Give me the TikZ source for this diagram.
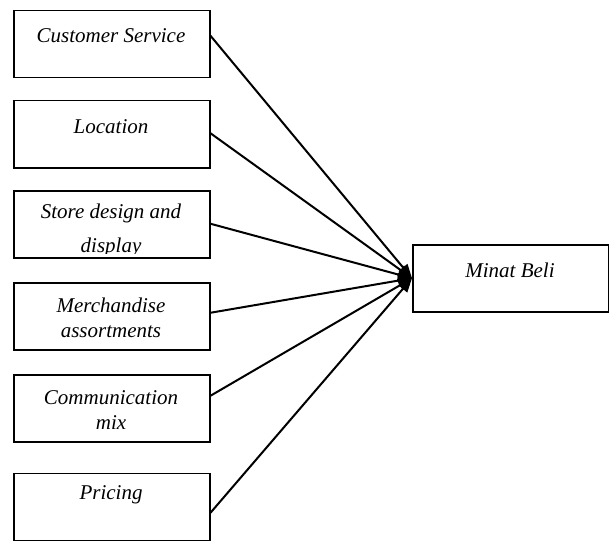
\documentclass[tikz,border=0pt]{standalone}
\usepackage{fontspec}
\setmainfont{Liberation Serif}
\usetikzlibrary{arrows.meta}
\begin{document}
\begin{tikzpicture}[x=1pt,y=-1pt,
  box/.style={draw, line width=1.5pt, minimum width=196pt, minimum height=67pt, inner sep=0pt, anchor=north west},
  lbl/.style={font=\fontsize{21}{25.5}\selectfont\itshape, align=center, inner sep=0pt},
  conn/.style={line width=2pt, -{Triangle[length=14pt,width=11pt]}}]
\useasboundingbox (0,0) rectangle (609,540);
\node[box] (b1) at (13,10) {};
\node[box] (b2) at (13,100) {};
\node[box] (b3) at (13,190) {};
\node[box] (b4) at (13,282) {};
\node[box] (b5) at (13,374) {};
\node[box] (b6) at (13,472.5) {};
\node[box] (mb) at (412,244) {};
\node[lbl] (t1) at (111,36) {Customer Service};
\node[lbl] (t2) at (111,127) {Location};
\begin{scope}
\clip (14,191) rectangle (208,253);
\node[lbl] (t3a) at (111,213) {Store design and};
\node[lbl] (t3b) at (111,247) {display};
\end{scope}
\node[lbl] (t4) at (111,318) {Merchandise\\assortments};
\node[lbl] (t5) at (111,410) {Communication\\mix};
\node[lbl] (t6) at (111,495) {Pricing};
\node[lbl] (tm) at (510,270) {Minat Beli};
\draw[conn] ([yshift=8.5pt]b1.east) -- (mb.west);
\draw[conn] ([yshift=1pt]b2.east) -- (mb.west);
\draw[conn] ([yshift=0.5pt]b3.east) -- (mb.west);
\draw[conn] ([yshift=3.5pt]b4.east) -- (mb.west);
\draw[conn] ([yshift=12.5pt]b5.east) -- (mb.west);
\draw[conn] ([yshift=-6pt]b6.east) -- (mb.west);
\end{tikzpicture}
\end{document}
